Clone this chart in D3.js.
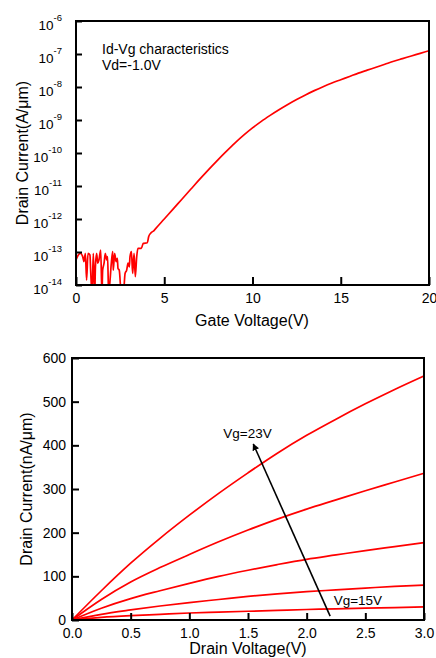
<!DOCTYPE html>
<html>
<head>
<meta charset="utf-8">
<script src="https://cdn.jsdelivr.net/npm/d3@7"></script>
<style>
  body { margin: 0; background: #fff; }
  svg { display: block; font-family: 'Liberation Sans', Arial, sans-serif; }
</style>
</head>
<body>
<div id="chart-container"></div>
<script>
// Id-Vg data (gate voltage in V, log10 of drain current in A/um)
const gateVoltage = [0, 0.13, 0.26, 0.38, 0.45, 0.53, 0.60, 0.68, 0.79, 0.83, 0.91, 0.98, 1.06, 1.10, 1.17, 1.23,
  1.30, 1.40, 1.47, 1.51, 1.59, 1.66, 1.74, 1.79, 1.85, 1.93, 2.00, 2.08, 2.11, 2.19, 2.27, 2.34, 2.38, 2.45,
  2.57, 2.68, 2.78, 2.87, 2.95, 3.02, 3.06, 3.14, 3.21, 3.29, 3.36, 3.44, 3.51, 3.70, 3.81, 4.04, 4.12, 4.23,
  4.42, 4.5, 5, 5.5, 6, 6.5, 7, 7.5, 8, 8.5, 9, 9.5, 10, 10.5, 11, 11.5, 12, 12.5, 13, 13.5, 14, 14.5, 15,
  15.5, 16, 16.5, 17, 17.5, 18, 18.5, 19, 19.5, 20];
const logDrainCurrent = [-13.24, -13.09, -13.04, -13.14, -13.29, -13.04, -13.85, -13.04, -13.09, -13.55, -14.3,
  -13.04, -14.3, -13.45, -13.04, -13.34, -13.24, -12.94, -14.3, -13.55, -13.34, -13.04, -13.24, -13.14, -14.3,
  -13.85, -13.34, -12.99, -13.55, -13.04, -13.29, -13.19, -13.5, -13.55, -14.3, -14.3, -13.65, -13.55, -13.34,
  -13.45, -13.14, -12.99, -13.65, -13.04, -13.75, -13.14, -12.89, -12.89, -12.74, -12.72, -12.53, -12.43,
  -12.35, -12.30, -12.0, -11.70, -11.40, -11.10, -10.80, -10.51, -10.23, -9.96, -9.70, -9.46, -9.24, -9.04,
  -8.86, -8.69, -8.53, -8.38, -8.24, -8.11, -7.99, -7.88, -7.78, -7.68, -7.58, -7.49, -7.40, -7.31, -7.22,
  -7.14, -7.06, -6.98, -6.90];
const logTicks = [-14, -13, -12, -11, -10, -9, -8, -7, -6];
const gateTicks = [0, 5, 10, 15, 20];

// Id-Vd data (drain voltage in V, current in nA/um), Vg = 23V down to 15V
const drainVoltage = [0, 0.25, 0.5, 0.75, 1.0, 1.25, 1.5, 1.75, 2.0, 2.25, 2.5, 2.75, 3.0];
const idVg23 = [0, 67, 130, 187, 240, 290, 337, 382, 423, 460, 495, 528, 559];
const idVg21 = [0, 47, 87, 120, 150, 179, 206, 231, 254, 275, 296, 316, 336];
const idVg19 = [0, 27, 49, 67, 84, 100, 114, 127, 139, 149, 159, 168, 177];
const idVg17 = [0, 13, 23, 32, 40, 47, 54, 60, 65, 69, 73, 77, 80];
const idVg15 = [0, 6, 10, 13, 16, 18, 20, 22, 24, 25.5, 27, 28.5, 30];
const drainTicks = [0, 0.5, 1.0, 1.5, 2.0, 2.5, 3.0];
const currentTicks = [0, 100, 200, 300, 400, 500, 600];

const svg = d3.select('#chart-container').append('svg')
  .attr('width', 436)
  .attr('height', 658);

// arrow head for the Vg annotation
svg.append('defs').append('marker')
  .attr('id', 'arrow')
  .attr('viewBox', '0 0 10 10')
  .attr('refX', 9).attr('refY', 5)
  .attr('markerWidth', 7).attr('markerHeight', 7)
  .attr('markerUnits', 'userSpaceOnUse')
  .attr('orient', 'auto')
  .append('path')
  .attr('d', 'M0,0 L10,5 L0,10 z')
  .style('fill', '#000');

// ---------- top chart: Id-Vg (log scale) ----------
const x1 = d3.scaleLinear().domain([0, 20]).range([76, 429]);
const y1 = d3.scaleLog().domain([1e-14, 1e-6]).range([285, 21]);

svg.append('clipPath').attr('id', 'clip1')
  .append('rect')
  .attr('x', 76).attr('y', 21).attr('width', 353).attr('height', 264);

const line1 = d3.line()
  .x((d, i) => x1(gateVoltage[i]))
  .y(d => y1(Math.pow(10, d)))
  .curve(d3.curveMonotoneX);

svg.append('path')
  .datum(logDrainCurrent)
  .attr('clip-path', 'url(#clip1)')
  .attr('d', line1)
  .style('fill', 'none')
  .style('stroke', '#ff0000')
  .style('stroke-width', 1.7)
  .style('stroke-linejoin', 'round');

// x axis with inward ticks
svg.append('g')
  .attr('transform', 'translate(0,285)')
  .call(d3.axisBottom(x1).tickValues(gateTicks).tickSize(-8).tickPadding(8).tickFormat(d3.format('d')))
  .call(g => g.select('.domain').remove())
  .call(g => g.selectAll('line').style('stroke-width', 2))
  .call(g => g.selectAll('text').style('font-size', '14px').style('fill', '#000').attr('font-family', null));

// y axis: ticks only, labels drawn as 10 with superscript
svg.append('g')
  .attr('transform', 'translate(76,0)')
  .call(d3.axisLeft(y1).tickValues(logTicks.map(d => Math.pow(10, d))).tickSize(-6).tickFormat(''))
  .call(g => g.select('.domain').remove())
  .call(g => g.selectAll('line').style('stroke-width', 2));

const logLabels = svg.append('g')
  .selectAll('text')
  .data(logTicks)
  .enter().append('text')
  .attr('x', 62)
  .attr('y', d => y1(Math.pow(10, d)) + 9)
  .style('text-anchor', 'end')
  .style('font-size', '13.5px');
logLabels.append('tspan').text('10');
logLabels.append('tspan')
  .attr('dy', -9)
  .style('font-size', '9.5px')
  .text(d => d);

svg.append('rect')
  .attr('x', 76).attr('y', 21).attr('width', 353).attr('height', 264)
  .style('fill', 'none').style('stroke', '#000').style('stroke-width', 2);

svg.append('text')
  .attr('x', 252).attr('y', 326)
  .style('text-anchor', 'middle').style('font-size', '16px')
  .text('Gate Voltage(V)');

svg.append('text')
  .attr('transform', 'translate(28,153) rotate(-90)')
  .style('text-anchor', 'middle').style('font-size', '16px')
  .text('Drain Current(A/\u03bcm)');

svg.append('text').attr('x', 102).attr('y', 54).style('font-size', '14px').text('Id-Vg characteristics');
svg.append('text').attr('x', 102).attr('y', 70).style('font-size', '14px').text('Vd=-1.0V');

// ---------- bottom chart: Id-Vd ----------
const x2 = d3.scaleLinear().domain([0, 3]).range([72, 424]);
const y2 = d3.scaleLinear().domain([0, 600]).range([620, 358]);

const line2 = d3.line()
  .x((d, i) => x2(drainVoltage[i]))
  .y(d => y2(d))
  .curve(d3.curveMonotoneX);

svg.append('g')
  .selectAll('path')
  .data([idVg23, idVg21, idVg19, idVg17, idVg15])
  .enter().append('path')
  .attr('d', line2)
  .style('fill', 'none')
  .style('stroke', '#ff0000')
  .style('stroke-width', 1.7);

svg.append('g')
  .attr('transform', 'translate(0,620)')
  .call(d3.axisBottom(x2).tickValues(drainTicks).tickSize(-7).tickPadding(8).tickFormat(d3.format('.1f')))
  .call(g => g.select('.domain').remove())
  .call(g => g.selectAll('line').style('stroke-width', 2))
  .call(g => g.selectAll('text').style('font-size', '14px').style('fill', '#000').attr('font-family', null));

svg.append('g')
  .attr('transform', 'translate(72,0)')
  .call(d3.axisLeft(y2).tickValues(currentTicks).tickSize(-7).tickPadding(6).tickFormat(d3.format('d')))
  .call(g => g.select('.domain').remove())
  .call(g => g.selectAll('line').style('stroke-width', 2))
  .call(g => g.selectAll('text').style('font-size', '14px').style('fill', '#000').attr('font-family', null));

svg.append('rect')
  .attr('x', 72).attr('y', 358).attr('width', 352).attr('height', 262)
  .style('fill', 'none').style('stroke', '#000').style('stroke-width', 2);

svg.append('text')
  .attr('x', 248).attr('y', 654)
  .style('text-anchor', 'middle').style('font-size', '16px')
  .text('Drain Voltage(V)');

svg.append('text')
  .attr('transform', 'translate(32,489) rotate(-90)')
  .style('text-anchor', 'middle').style('font-size', '16px')
  .text('Drain Current(nA/\u03bcm)');

// Vg arrow and labels
svg.append('line')
  .attr('x1', x2(2.2)).attr('y1', y2(9))
  .attr('x2', x2(1.545)).attr('y2', y2(403))
  .style('stroke', '#000').style('stroke-width', 1.6)
  .attr('marker-end', 'url(#arrow)');

svg.append('text').attr('x', x2(1.29)).attr('y', y2(417)).style('font-size', '13.5px').text('Vg=23V');
svg.append('text').attr('x', x2(2.23)).attr('y', y2(34)).style('font-size', '13.5px').text('Vg=15V');
</script>
</body>
</html>
